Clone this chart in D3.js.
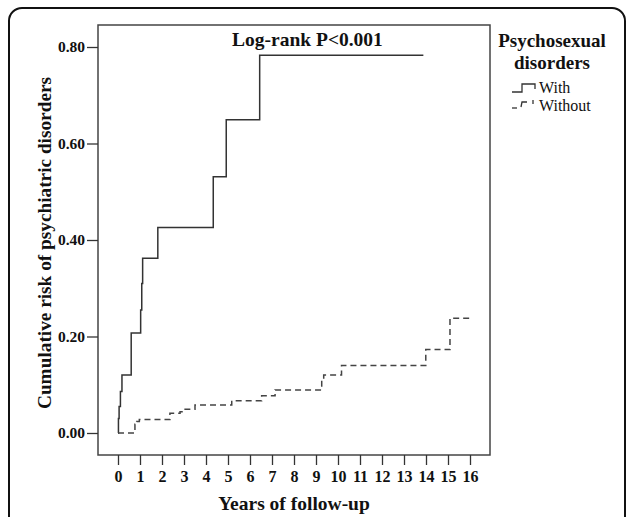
<!DOCTYPE html>
<html><head><meta charset="utf-8">
<script src="https://cdn.jsdelivr.net/npm/d3@7"></script>
<style>body{margin:0;background:#fff}svg{display:block}text{font-family:"Liberation Serif","Times New Roman",serif;fill:#111}</style>
</head><body>
<script>
const withTimes  = [0, 0.02, 0.05, 0.11, 0.18, 0.30, 0.60, 1.03, 1.08, 1.12, 1.81, 4.33, 4.92, 6.44, 13.88];
const withRisk   = [0, 0.03, 0.055, 0.086, 0.12, 0.12, 0.207, 0.255, 0.31, 0.362, 0.426, 0.531, 0.649, 0.783, 0.783];
const withoutTimes = [0, 0.77, 0.85, 0.97, 2.36, 2.82, 3.05, 3.50, 5.17, 6.53, 7.14, 9.26, 9.35, 10.16, 13.99, 15.09, 15.97];
const withoutRisk  = [0, 0.018, 0.024, 0.028, 0.041, 0.044, 0.049, 0.058, 0.067, 0.077, 0.089, 0.11, 0.12, 0.14, 0.173, 0.238, 0.238];
const xTicks = d3.range(0, 17);
const yTicks = [0, 0.2, 0.4, 0.6, 0.8];
const seriesNames = ["With", "Without"];

const W = 629, H = 517;
const svg = d3.select("body").append("svg").attr("width", W).attr("height", H);

svg.append("rect").attr("x", 9).attr("y", 8).attr("width", 616).attr("height", 540)
  .attr("rx", 13).attr("fill", "none").attr("stroke", "#111").attr("stroke-width", 2);

const L = 98, R = 490, T = 25, B = 455;
const x = d3.scaleLinear().domain([-0.909, 16.909]).range([L, R]);
const y = d3.scaleLinear().domain([-0.0456, 0.8456]).range([B, T]);

svg.append("rect").attr("x", L).attr("y", T).attr("width", R - L).attr("height", B - T)
  .attr("fill", "none").attr("stroke", "#444").attr("stroke-width", 1.5);

// x axis
const xAxis = svg.append("g").attr("transform", `translate(0,${B})`)
  .call(d3.axisBottom(x).tickValues(xTicks).tickSize(10).tickPadding(6).tickFormat(d3.format("d")));
xAxis.select(".domain").remove();
xAxis.selectAll("line").attr("stroke", "#333").attr("stroke-width", 1.3);
xAxis.selectAll("text").attr("font-size", 16).attr("font-weight", "bold")
  .style("font-family", '"Liberation Serif",serif').attr("fill", "#111");

// y axis
const yAxis = svg.append("g").attr("transform", `translate(${L},0)`)
  .call(d3.axisLeft(y).tickValues(yTicks).tickSize(11).tickPadding(2).tickFormat(d3.format(".2f")));
yAxis.select(".domain").remove();
yAxis.selectAll("line").attr("stroke", "#333").attr("stroke-width", 1.3);
yAxis.selectAll("text").attr("font-size", 15.5).attr("font-weight", "bold")
  .style("font-family", '"Liberation Serif",serif').attr("fill", "#111");

const line = d3.line().x(d => x(d[0])).y(d => y(d[1])).curve(d3.curveStepAfter);
svg.append("path").datum(withTimes.map((t, i) => [t, withRisk[i]]))
  .attr("d", line).attr("fill", "none").attr("stroke", "#333").attr("stroke-width", 1.5);
svg.append("path").datum(withoutTimes.map((t, i) => [t, withoutRisk[i]]))
  .attr("d", line).attr("fill", "none").attr("stroke", "#444").attr("stroke-width", 1.5)
  .attr("stroke-dasharray", "6,4");

svg.append("text").attr("x", 232).attr("y", 46).attr("font-size", 19.5).attr("font-weight", "bold")
  .text("Log-rank P<0.001");

svg.append("text").attr("transform", "translate(51,243) rotate(-90)").attr("text-anchor", "middle")
  .attr("font-size", 19.3).attr("font-weight", "bold").text("Cumulative risk of psychiatric disorders");

svg.append("text").attr("x", 294).attr("y", 510).attr("text-anchor", "middle")
  .attr("font-size", 19.5).attr("font-weight", "bold").text("Years of follow-up");

// legend
svg.append("text").attr("x", 552).attr("y", 47).attr("text-anchor", "middle")
  .attr("font-size", 19).attr("font-weight", "bold").text("Psychosexual");
svg.append("text").attr("x", 552).attr("y", 69).attr("text-anchor", "middle")
  .attr("font-size", 19).attr("font-weight", "bold").text("disorders");

const lg = svg.append("g");
const sym = [[[512,92],[522,92],[522,84],[535,84],[535,89]], [[512,108],[517,108]], [[521,107],[522,102],[527,102]], [[533,100],[533,104]]];
sym.forEach((s, i) => {
  lg.append("path").attr("d", d3.line()(s)).attr("fill", "none").attr("stroke", "#333")
    .attr("stroke-width", 1.3);
});
seriesNames.forEach((n, i) => {
  lg.append("text").attr("x", 539).attr("y", 93 + i * 18).attr("font-size", 16).text(n);
});
</script>
</body></html>
